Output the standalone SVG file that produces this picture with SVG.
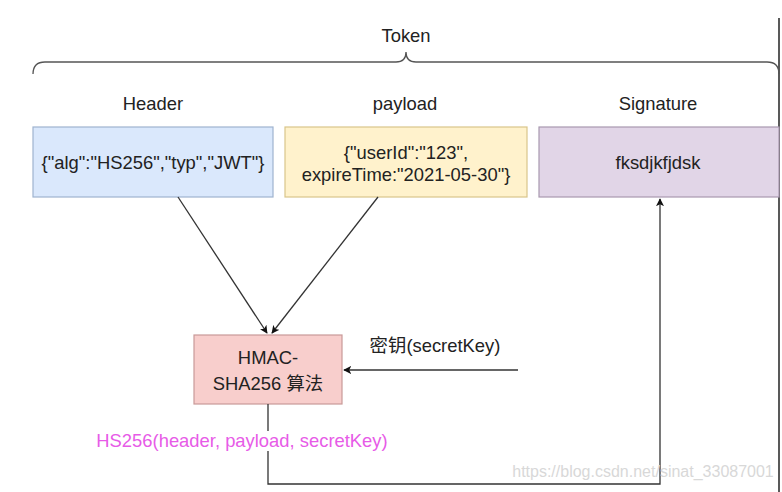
<svg xmlns="http://www.w3.org/2000/svg" width="782" height="492" viewBox="0 0 782 492">
<defs>
<style>
text{font-family:"Liberation Sans","Noto Sans CJK SC",Arial,sans-serif;fill:#222;font-size:18.4px;text-anchor:middle}
.box{stroke-width:1.2}
.conn{fill:none;stroke:#333;stroke-width:1.3}
</style>
<marker id="ah" viewBox="0 0 10 10" refX="9" refY="5" markerWidth="8" markerHeight="8" orient="auto" markerUnits="userSpaceOnUse">
<path d="M0,0 L10,5 L0,10 L2.5,5 Z" fill="#111"/>
</marker>
</defs>
<rect width="782" height="492" fill="#fff"/>
<line x1="779" y1="18" x2="779" y2="492" stroke="#222" stroke-width="1.5"/>
<g id="token">
<text x="406" y="42">Token</text>
<path d="M33,74 Q33,62 45,62 L396,62 Q406,62 406,52 Q406,62 416,62 L767,62 Q779,62 779,74" fill="none" stroke="#555" stroke-width="1.3"/>
</g>
<g id="header">
<text x="153" y="110">Header</text>
<rect class="box" x="33" y="127" width="240" height="70" fill="#dae8fc" stroke="#9fb3cf"/>
<text x="153" y="169">{"alg":"HS256","typ","JWT"}</text>
</g>
<g id="payload">
<text x="405" y="110">payload</text>
<rect class="box" x="285" y="127" width="242" height="70" fill="#fff2cc" stroke="#d9c58a"/>
<text x="406" y="159">{"userId":"123",</text>
<text x="406" y="181">expireTime:"2021-05-30"}</text>
</g>
<g id="signature">
<text x="658" y="110">Signature</text>
<rect class="box" x="539" y="127" width="240" height="70" fill="#e1d5e7" stroke="#a898b0"/>
<text x="658" y="169">fksdjkfjdsk</text>
</g>
<g id="hmac">
<rect class="box" x="194" y="335" width="148" height="69" fill="#f8cecc" stroke="#c99a98"/>
<text x="268" y="364">HMAC-</text>
<text x="268" y="390">SHA256 算法</text>
</g>
<g id="connectors">
<line class="conn" x1="178" y1="197" x2="267" y2="333" marker-end="url(#ah)"/>
<line class="conn" x1="378" y1="197" x2="272" y2="333" marker-end="url(#ah)"/>
<line class="conn" x1="518" y1="370" x2="344" y2="370" marker-end="url(#ah)"/>
<path class="conn" d="M268,404 L268,484 L660,484 L660,199" marker-end="url(#ah)"/>
<text x="435" y="352">密钥(secretKey)</text>
<rect x="94" y="431" width="298" height="20" fill="#fff"/>
<text x="242" y="447" style="fill:#e75be7">HS256(header, payload, secretKey)</text>
</g>
<text x="643" y="477" style="fill:#d8d8d8;font-size:16px">https://blog.csdn.net/sinat_33087001</text>
</svg>
